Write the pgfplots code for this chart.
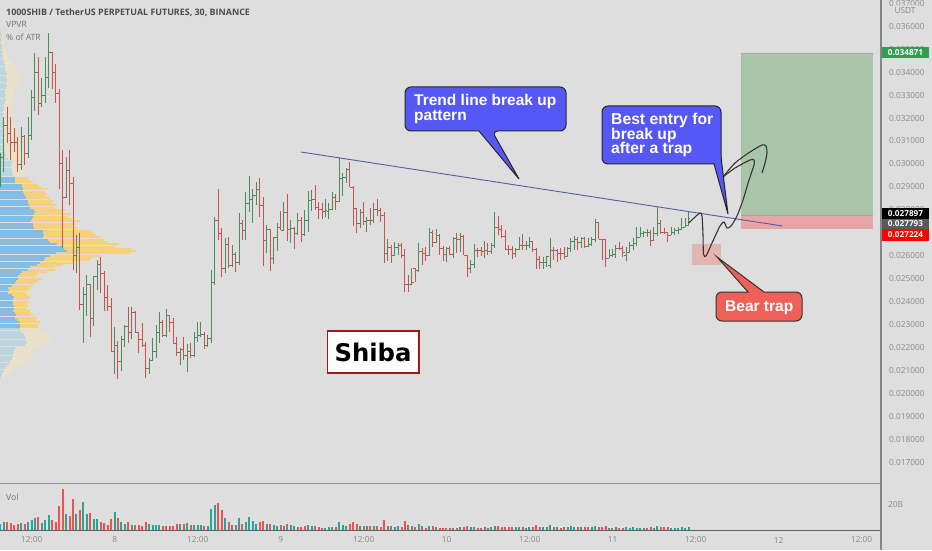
\documentclass[border=0pt]{standalone}
\usepackage{pgfplots}
\usepackage{pgfplotstable}
\usepackage{fontspec}
\setmainfont{Open Sans}
\newfontfamily\arial{Liberation Sans}
\newfontfamily\dejavu{DejaVu Sans}
\pgfplotsset{compat=1.18}
\definecolor{bgc}{HTML}{DEDEDE}
\definecolor{gbar}{HTML}{4F8A5C}
\definecolor{rbar}{HTML}{C9524F}
\definecolor{tealv}{HTML}{26A69A}
\definecolor{redv}{HTML}{EF5350}
\definecolor{vab}{HTML}{85BCE4}
\definecolor{vao}{HTML}{F4D07F}
\definecolor{pab}{HTML}{BDD5DF}
\definecolor{pao}{HTML}{ECE0C5}
\definecolor{ticktxt}{HTML}{8A8A8A}
\definecolor{calloutb}{HTML}{5658F5}
\definecolor{calloutr}{HTML}{EF6059}
\pgfdeclareplotmark{olt}{\pgfpathmoveto{\pgfqpoint{-1.9pt}{0pt}}\pgfpathlineto{\pgfqpoint{0pt}{0pt}}\pgfusepathqstroke}
\pgfdeclareplotmark{ort}{\pgfpathmoveto{\pgfqpoint{1.9pt}{0pt}}\pgfpathlineto{\pgfqpoint{0pt}{0pt}}\pgfusepathqstroke}
% price in units of 0.001 USDT
\pgfplotstableread{
k o h l c
0 29.74 30.48 28.99 30.30
1 30.30 32.05 29.65 31.70
6 30.00 31.61 29.74 31.18
8 30.44 32.04 30.26 31.26
9 31.26 33.22 31.05 32.88
10 32.88 34.84 32.31 33.97
12 32.66 33.75 32.48 33.00
13 33.00 34.66 32.66 33.75
14 33.75 35.71 33.31 34.88
19 28.56 30.30 28.52 29.74
22 26.03 26.90 25.25 26.38
24 23.90 24.64 22.20 24.33
25 24.33 25.16 23.38 24.73
27 23.29 25.12 22.94 25.08
28 25.08 25.82 24.51 25.64
33 21.85 22.90 20.85 22.11
35 21.41 22.51 20.98 22.37
36 22.37 22.98 22.03 22.94
38 22.64 23.77 22.37 23.55
43 21.11 21.55 20.85 21.46
44 21.46 22.42 21.46 21.85
45 21.85 22.98 21.55 22.64
46 22.64 23.55 22.20 23.11
48 22.51 23.68 22.46 23.38
52 21.81 21.98 21.24 21.94
54 21.64 22.16 20.93 21.85
56 21.64 22.68 21.59 22.46
57 22.46 23.11 22.24 22.51
58 22.51 23.11 22.46 22.59
60 22.11 22.55 22.03 22.42
61 22.42 25.38 22.20 24.86
62 24.86 27.69 24.73 27.56
65 25.47 26.77 25.25 26.51
67 25.56 26.47 25.51 26.08
69 25.69 27.86 25.60 27.43
71 27.12 28.78 26.69 28.30
72 28.30 29.48 27.90 28.47
73 28.47 28.91 27.43 28.65
74 28.65 29.22 28.21 28.91
77 26.69 27.34 26.12 27.16
79 25.90 26.82 25.64 26.82
80 26.82 27.43 26.20 27.25
82 27.12 28.34 27.12 27.90
84 27.16 27.56 26.55 27.21
86 26.99 27.86 26.90 27.56
88 26.95 27.99 26.86 27.56
89 27.56 28.82 27.03 28.43
90 28.43 28.87 27.95 28.47
94 27.95 28.47 27.69 27.96
95 27.95 28.30 27.60 28.03
96 28.03 28.78 27.99 28.56
98 28.38 30.26 28.34 29.39
99 29.39 29.61 28.60 29.43
100 29.43 29.83 29.17 29.78
104 27.43 28.03 27.21 27.90
106 27.51 27.69 27.03 27.56
108 27.52 28.30 27.43 28.03
112 26.12 26.73 25.77 26.38
114 26.03 26.60 26.03 26.38
115 26.38 26.55 26.03 26.47
119 24.75 25.47 24.73 24.82
121 25.34 26.55 25.29 26.20
124 26.03 27.21 25.99 27.03
126 26.60 27.16 26.55 26.90
129 26.08 26.38 25.73 26.34
131 26.08 26.82 25.90 26.77
133 26.70 26.99 26.16 26.86
136 25.43 25.82 25.25 25.64
137 25.64 26.51 25.47 26.25
140 26.20 26.64 25.90 26.25
142 26.20 26.55 26.08 26.47
143 26.47 27.90 26.34 27.25
149 26.12 26.34 25.95 26.29
150 26.29 26.82 26.25 26.47
152 26.47 26.64 26.25 26.47
153 26.47 26.82 26.34 26.64
157 25.69 25.95 25.43 25.70
158 25.70 25.99 25.51 25.95
159 25.60 26.77 25.47 26.25
164 25.99 26.38 25.95 26.34
165 26.34 26.77 26.16 26.64
166 26.64 26.86 26.25 26.73
168 26.60 26.82 26.34 26.77
170 26.42 26.77 26.38 26.51
171 26.51 26.82 26.42 26.73
172 26.73 27.60 26.60 27.47
176 25.90 26.29 25.90 26.03
177 26.03 26.29 25.95 26.08
178 26.08 26.47 25.90 26.34
181 26.00 26.38 25.77 26.16
182 26.16 26.60 26.16 26.47
183 26.47 26.77 26.25 26.55
184 26.55 27.25 26.42 26.82
185 26.82 27.25 26.82 26.99
186 26.99 27.08 26.82 27.00
187 27.00 27.16 26.82 27.02
189 26.69 27.25 26.69 26.99
190 26.99 28.12 26.86 27.43
194 26.90 27.25 26.90 27.03
195 27.03 27.21 26.90 27.12
196 27.12 27.25 26.95 27.16
197 27.16 27.64 27.12 27.25
198 27.25 27.64 27.25 27.34
199 27.34 27.90 27.34 27.64
}\upbars
\pgfplotstableread{
k o h l c
2 31.70 32.48 30.92 31.35
3 31.35 32.04 30.17 30.96
4 30.96 31.57 30.52 30.96
5 30.92 31.18 29.65 30.00
7 31.18 31.26 29.95 30.44
11 33.97 34.66 32.13 32.66
15 34.88 34.88 33.27 33.97
16 34.01 34.36 32.66 33.09
17 33.09 33.27 28.91 30.04
18 30.04 30.61 26.34 28.56
20 29.74 30.61 28.21 29.17
21 29.17 29.43 25.38 26.03
23 26.38 26.99 23.64 23.90
26 24.73 24.77 22.46 23.29
29 25.64 25.95 24.38 25.21
30 25.21 25.34 23.59 24.20
31 24.20 24.73 23.59 23.81
32 23.81 24.16 21.85 21.85
34 22.11 22.29 20.63 21.41
37 22.94 23.77 22.20 22.64
39 23.55 23.59 22.64 22.64
40 22.64 22.64 21.77 22.37
41 22.37 23.07 22.03 22.11
42 22.11 22.24 20.67 21.11
47 23.11 23.20 22.46 22.51
49 23.38 23.38 22.68 23.11
50 23.11 23.29 22.16 22.16
51 22.16 22.46 21.64 21.81
53 21.94 22.46 21.46 21.64
55 21.85 22.20 21.55 21.64
59 22.59 22.68 21.94 22.11
63 27.56 28.91 26.69 26.99
64 26.99 27.21 25.08 25.47
66 26.51 26.82 25.47 25.56
68 26.08 26.16 25.29 25.69
70 27.43 27.56 26.69 27.12
75 28.91 29.39 27.69 28.21
76 28.21 28.56 25.56 26.69
78 27.16 27.16 25.34 25.90
81 27.25 27.95 27.12 27.12
83 27.90 28.69 26.64 27.16
85 27.21 27.25 26.29 26.99
87 27.56 27.69 26.60 26.95
91 28.47 29.08 27.99 28.12
92 28.12 28.34 27.60 28.03
93 28.03 28.30 27.60 27.95
97 28.56 28.69 27.99 28.38
101 29.78 30.09 28.99 28.99
102 28.99 29.04 27.29 28.08
103 28.08 28.08 26.99 27.43
105 27.90 28.34 27.34 27.51
107 27.56 28.08 27.34 27.52
109 28.03 28.47 27.73 27.99
110 27.99 28.08 27.47 27.77
111 27.77 27.90 25.69 26.12
113 26.38 26.47 25.69 26.03
116 26.47 26.55 25.90 26.03
117 26.03 26.29 24.42 24.77
118 24.77 25.16 24.42 24.75
120 25.47 25.47 24.86 25.34
122 26.20 26.34 25.60 26.12
123 26.12 26.38 25.77 26.03
125 27.03 27.12 26.38 26.60
127 26.90 26.95 26.03 26.34
128 26.34 26.42 25.77 26.08
130 26.34 26.42 26.03 26.08
132 26.77 26.99 26.12 26.70
134 26.86 26.90 26.03 26.03
135 26.03 26.03 25.08 25.43
138 26.25 26.34 25.95 26.25
139 26.25 26.38 25.99 26.20
141 26.25 26.55 26.03 26.20
144 27.25 27.73 26.90 27.16
145 27.16 27.34 26.77 26.86
146 26.86 27.12 26.25 26.29
147 26.29 26.47 26.03 26.29
148 26.29 26.42 25.86 26.12
151 26.47 26.95 26.25 26.47
154 26.64 26.64 26.16 26.29
155 26.29 26.34 25.43 25.82
156 25.82 25.99 25.43 25.69
160 26.25 26.38 25.82 26.25
161 26.25 26.29 25.73 26.12
162 26.12 26.34 25.82 26.12
163 26.12 26.38 25.86 25.99
167 26.73 26.82 26.25 26.60
169 26.77 26.82 26.34 26.42
173 27.47 27.47 26.73 26.73
174 26.73 26.73 25.82 26.70
175 26.70 26.73 25.51 25.90
179 26.34 26.60 26.25 26.30
180 26.30 26.42 25.95 26.16
188 27.02 27.12 26.42 26.69
191 27.43 27.56 26.95 27.03
192 27.03 27.21 26.95 27.03
193 27.03 27.03 26.60 26.90
}\downbars
% volume profile: price row, up-volume extent, total extent
\pgfplotstableread{
p b t
35.7 1 3
35.6 2 3
35.5 1 3
35.4 2 4
35.3 1 3
35.2 2 4
35.1 2 4
35.0 2 5
34.9 3 6
34.8 2 6
34.7 3 7
34.6 3 8
34.5 4 10
34.4 4 12
34.3 5 14
34.2 5 17
34.1 5 16
34.0 6 18
33.9 7 20
33.8 6 21
33.7 7 19
33.6 7 20
33.5 6 17
33.4 7 18
33.3 6 15
33.2 5 14
33.1 5 13
33.0 6 14
32.9 5 15
32.8 6 14
32.7 5 13
32.6 4 12
32.5 4 11
32.4 4 10
32.3 3 11
32.2 4 10
32.1 3 9
32.0 3 10
31.9 3 11
31.8 4 11
31.7 3 13
31.6 3 14
31.5 4 16
31.4 4 18
31.3 4 17
31.2 5 19
31.1 4 20
31.0 4 19
30.9 4 20
30.8 5 21
30.7 4 20
30.6 5 22
30.5 5 23
30.4 6 21
30.3 5 22
30.2 8 21
30.1 12 20
30.0 12 21
29.9 11 22
29.8 12 23
29.7 12 24
29.6 12 23
29.5 13 25
22.8 20 42
22.7 21 40
22.6 24 48
22.5 25 52
22.4 26 50
22.3 26 53
22.2 27 47
22.1 25 43
22.0 16 37
21.9 14 32
21.8 14 30
21.7 13 32
21.6 13 38
21.5 12 33
21.4 10 27
21.3 9 25
21.2 7 20
21.1 5 15
21.0 4 13
20.9 3 10
20.8 2 6
20.7 1 3
}\profpale
\pgfplotstableread{
p b t
29.4 15 28
29.3 15 31
29.2 15 33
29.1 22 38
29.0 22 41
28.9 23 48
28.8 23 45
28.7 24 47
28.6 25 46
28.5 26 50
28.4 28 53
28.3 28 52
28.2 29 57
28.1 30 55
28.0 34 65
27.9 35 62
27.8 34 70
27.7 33 68
27.6 32 72
27.5 31 80
27.4 33 76
27.3 33 72
27.2 34 78
27.1 43 92
27.0 43 93
26.9 44 96
26.8 43 100
26.7 48 104
26.6 50 107
26.5 57 119
26.4 62 115
26.3 64 132
26.2 67 136
26.1 56 130
26.0 50 102
25.9 45 92
25.8 44 90
25.7 40 74
25.6 37 63
25.5 30 55
25.4 28 56
25.3 22 46
25.2 20 38
25.1 18 35
25.0 18 42
24.9 16 38
24.8 15 35
24.7 12 33
24.6 8 30
24.5 9 28
24.4 8 25
24.3 12 27
24.2 14 30
24.1 13 28
24.0 13 29
23.9 13 27
23.8 14 28
23.7 14 27
23.6 13 30
23.5 15 31
23.4 16 33
23.3 15 37
23.2 17 36
23.1 20 40
23.0 20 38
22.9 20 38
}\profva
\begin{document}
\begin{tikzpicture}
\path[use as bounding box,fill=bgc] (0pt,0pt) rectangle (932pt,550pt);
% volume profile
\begin{axis}[at={(0pt,66pt)},anchor=south west,scale only axis,width=881pt,height=484pt,
  xmin=0,xmax=881,ymin=16.056,ymax=37.146,hide axis,clip=true]
  \addplot[xcomb,color=pao,line width=2pt] table[x=t,y=p]{\profpale};
  \addplot[xcomb,color=pab,line width=2pt] table[x=b,y=p]{\profpale};
  \addplot[xcomb,color=vao,line width=2pt] table[x=t,y=p]{\profva};
  \addplot[xcomb,color=vab,line width=2pt] table[x=b,y=p]{\profva};
\end{axis}
% price pane
\begin{axis}[at={(0pt,66pt)},anchor=south west,scale only axis,width=881pt,height=484pt,
  xmin=-0.116,xmax=254.65,ymin=16.056,ymax=37.146,
  axis line style={draw=none},tick style={draw=none},xtick=\empty,
  ytick={17,18,19,20,21,22,23,24,25,26,27,28,29,30,31,32,33,34,35,36,37},
  yticklabels={0.017000,0.018000,0.019000,0.020000,0.021000,0.022000,0.023000,0.024000,0.025000,0.026000,0.027000,0.028000,0.029000,0.030000,0.031000,0.032000,0.033000,0.034000,0.035000,0.036000,0.037000},
  yticklabel pos=right,
  y tick label style={anchor=west,inner sep=0pt,xshift=8pt,font=\fontsize{8.3}{10}\selectfont,text=ticktxt},
  ]
  \addplot[draw=none,mark=none,forget plot,error bars/.cd,y dir=plus,y explicit,error mark=none,error bar style={draw=gbar,line width=1pt}] table[x=k,y=l,y error expr=\thisrow{h}-\thisrow{l}]{\upbars};
  \addplot[only marks,mark=olt,color=gbar,line width=0.9pt] table[x=k,y=o]{\upbars};
  \addplot[only marks,mark=ort,color=gbar,line width=0.9pt] table[x=k,y=c]{\upbars};
  \addplot[draw=none,mark=none,forget plot,error bars/.cd,y dir=plus,y explicit,error mark=none,error bar style={draw=rbar,line width=1pt}] table[x=k,y=l,y error expr=\thisrow{h}-\thisrow{l}]{\downbars};
  \addplot[only marks,mark=olt,color=rbar,line width=0.9pt] table[x=k,y=o]{\downbars};
  \addplot[only marks,mark=ort,color=rbar,line width=0.9pt] table[x=k,y=c]{\downbars};
\end{axis}
% volume pane
\begin{axis}[at={(0pt,19.7pt)},anchor=south west,scale only axis,width=881pt,height=46.3pt,
  xmin=-0.116,xmax=254.65,ymin=0,ymax=35.6,
  axis line style={draw=none},tick style={draw=none},
  xtick={9.05,33.05,57.05,81.05,105.05,129.05,153.05,177.05,201.05,225.05,249.05},
  xticklabels={12:00,8,12:00,9,12:00,10,12:00,11,12:00,12,12:00},
  x tick label style={inner sep=0pt,anchor=center,yshift=-9.7pt,font=\fontsize{8.3}{10}\selectfont,text=ticktxt},
  ytick={20},yticklabels={20B},yticklabel pos=right,
  y tick label style={anchor=west,inner sep=0pt,xshift=7pt,font=\fontsize{8.3}{10}\selectfont,text=ticktxt},
  ]
  \addplot[ycomb,color=tealv,line width=2pt] coordinates {(0,4.6)(1,6.4)(6,5.6)(8,6.7)(9,7.7)(10,9.8)(12,5.6)(13,7.7)(14,11.8)(19,12.6)(22,12.6)(24,21.8)(25,12.6)(27,8.5)(28,8.5)(33,13.9)(35,6.7)(36,5.1)(38,4.1)(43,4.6)(44,4.1)(45,4.4)(46,4.1)(52,4.6)(54,5.6)(56,4.1)(57,4.1)(58,4.1)(60,3.1)(61,16.7)(62,19.8)(65,9.2)(67,4.1)(69,9.8)(71,6.7)(72,10.3)(73,7.2)(74,4.6)(77,4.6)(79,4.1)(80,3.6)(82,3.1)(84,4.1)(85,3.6)(89,4.1)(90,3.1)(94,2.1)(95,2.3)(96,2.6)(98,6.7)(99,4.1)(100,3.6)(104,3.6)(106,3.1)(108,3.1)(112,3.6)(114,2.6)(115,3.1)(119,3.1)(121,5.1)(124,3.6)(126,2.6)(131,2.1)(133,2.3)(136,2.6)(137,2.6)(140,2.3)(142,2.3)(143,3.6)(149,2.3)(150,2.3)(152,1.8)(153,2.3)(157,2.6)(158,2.3)(159,4.1)(161,2.3)(164,2.6)(165,3.1)(166,2.6)(168,2.3)(171,2.3)(172,3.6)(176,1.5)(178,2.3)(181,2.3)(182,2.1)(183,2.6)(184,2.1)(185,1.8)(186,2.1)(189,2.1)(190,3.6)(194,1.8)(195,1.8)(196,2.1)(197,2.6)(198,1.8)(199,2.3)};
  \addplot[ycomb,color=redv,line width=2pt] coordinates {(2,6.7)(3,5.6)(4,4.1)(5,5.1)(7,4.6)(11,10.3)(15,8.0)(16,6.7)(17,19.0)(18,31.8)(20,10.8)(21,23.9)(23,15.7)(26,13.1)(29,6.7)(30,5.6)(31,4.1)(32,8.7)(34,9.5)(37,6.7)(39,4.1)(40,4.1)(41,3.6)(42,6.2)(47,3.6)(48,3.6)(49,3.1)(50,3.6)(51,4.6)(53,4.6)(55,4.1)(59,3.6)(63,21.0)(64,15.7)(66,6.2)(68,4.1)(70,5.1)(75,6.2)(76,7.2)(78,5.1)(81,4.1)(83,4.6)(86,2.8)(87,2.6)(88,3.1)(91,3.6)(92,2.6)(93,2.1)(97,2.6)(101,4.6)(102,6.7)(103,5.1)(105,3.6)(107,3.1)(109,3.6)(110,2.6)(111,7.7)(113,3.6)(116,2.8)(117,7.4)(118,4.1)(120,2.6)(122,3.1)(123,2.1)(125,3.1)(127,2.1)(128,2.1)(129,2.1)(130,1.5)(132,2.1)(134,2.6)(135,3.6)(138,1.5)(139,1.8)(141,1.8)(144,3.1)(145,2.6)(146,2.6)(147,2.6)(148,2.3)(151,2.6)(154,2.3)(155,4.1)(156,2.6)(160,2.8)(162,1.8)(163,2.6)(167,2.3)(169,2.3)(170,2.3)(173,2.6)(174,2.6)(175,3.1)(177,1.8)(179,1.8)(180,1.8)(187,2.1)(188,2.3)(191,2.6)(192,2.3)(193,2.3)};
\end{axis}
% annotations, in picture pixels measured from the top left
\begin{scope}[yshift=550pt,y=-1pt,x=1pt]
  % pane separators
  \draw[color=black!42,line width=1.3pt] (0,483.8)--(881,483.8);
  \draw[color=black!62,line width=0.9pt] (0,530.3)--(881,530.3);
  \draw[color=black!48,line width=1.6pt] (881,0)--(881,550);
  % long position
  \fill[fill={rgb,255:red,169;green,197;blue,169}] (741,53) rectangle (873,215.5);
  \fill[fill={rgb,255:red,232;green,165;blue,165}] (741,215.5) rectangle (873,229);
  \draw[color=black!35,line width=0.5pt] (741,53)--(873,53);
  \draw[color=black!35,line width=0.5pt] (741,215.5)--(873,215.5);
  % trap box
  \filldraw[fill={rgb,255:red,232;green,180;blue,176},draw={rgb,255:red,205;green,190;blue,175},line width=0.8pt] (692.7,244) rectangle (720.7,264);
  % trend line
  \draw[color={rgb,255:red,88;green,92;blue,160},line width=0.9pt] (301,152)--(782.5,226);
  % hand-drawn path
  \draw[color=black!80,line width=1.1pt] plot[smooth,tension=0.45] coordinates {(688.7,223)(694,218)(700,213)(702,216)(703,235)(703.5,254)(706,256)(712,243)(720,226)(724,222)(727,228)(731,226)(737,216)(743,200)(749,180)(754,165)(754,160)(750,160)(735,168)(723,177)};
  \draw[color=black!80,line width=1.1pt] plot[smooth,tension=0.45] coordinates {(723,177)(735,163)(750,152)(762,145)(766,146)(767,153)(765,163)(762,173)};
  % callouts
  \filldraw[fill=calloutb,draw=black!85,line width=1pt,rounded corners=6pt] (405,87)--(566,87)--(566,131)--(492,131)[sharp corners]--(519,179)--(479,131)[rounded corners=6pt]--(405,131)--cycle;
  \node[anchor=base west,inner sep=0,text=white,font=\arial\bfseries\fontsize{15.5}{16}\selectfont] at (414,106) {Trend line break up};
  \node[anchor=base west,inner sep=0,text=white,font=\arial\bfseries\fontsize{15.5}{16}\selectfont] at (414,120.5) {pattern};
  \filldraw[fill=calloutb,draw=black!85,line width=1pt,rounded corners=6pt] (602,106)--(721,106)--(721,157)[sharp corners]--(728,214)--(714,164)[rounded corners=6pt]--(602,164)--cycle;
  \node[anchor=base west,inner sep=0,text=white,font=\arial\bfseries\fontsize{15.7}{16}\selectfont] at (611,125) {Best entry for};
  \node[anchor=base west,inner sep=0,text=white,font=\arial\bfseries\fontsize{15.7}{16}\selectfont] at (611,139.5) {break up};
  \node[anchor=base west,inner sep=0,text=white,font=\arial\bfseries\fontsize{15.7}{16}\selectfont] at (611,154) {after a trap};
  \filldraw[fill=calloutr,draw=black!80,line width=1pt,rounded corners=6pt] (716,292)[sharp corners]--(748,292)--(717,257)--(764,292)[rounded corners=6pt]--(802,292)--(802,321)--(716,321)--cycle;
  \node[anchor=base west,inner sep=0,text=white,font=\arial\bfseries\fontsize{15.5}{16}\selectfont] at (725,311) {Bear trap};
  % name tag
  \filldraw[fill=white,draw={rgb,255:red,160;green,25;blue,25},line width=1.8pt] (327.5,331) rectangle (419,373);
  \node[anchor=base,inner sep=0,text=black,font=\dejavu\bfseries\fontsize{24.3}{26}\selectfont] at (373,361) {Shiba};
  % legend text
  \node[anchor=base west,inner sep=0,text=black!70,font=\bfseries\fontsize{8.9}{10}\selectfont] at (6,15.5) {1000SHIB / TetherUS PERPETUAL FUTURES, 30, BINANCE};
  \node[anchor=base west,inner sep=0,text=black!55,font=\fontsize{8.6}{10}\selectfont] at (6,28) {VPVR};
  \node[anchor=base west,inner sep=0,text=black!55,font=\fontsize{8.6}{10}\selectfont] at (6,40.5) {\% of ATR};
  \node[anchor=base west,inner sep=0,text=black!55,font=\fontsize{8.6}{10}\selectfont] at (6,500) {Vol};
  % price scale labels
  \fill[fill=bgc,rounded corners=2pt] (892,5.5) rectangle (921,17);
  \node[anchor=center,inner sep=0,text=ticktxt,font=\fontsize{8.3}{10}\selectfont] at (905,11) {USDT};
  \fill[fill={rgb,255:red,46;green,158;blue,79}] (882,47) rectangle (929,58);
  \node[anchor=center,inner sep=0,text=white,font=\bfseries\fontsize{8.2}{10}\selectfont] at (905.5,52.5) {0.034871};
  \fill[fill=black] (882,208) rectangle (929,218.5);
  \node[anchor=center,inner sep=0,text=white,font=\bfseries\fontsize{8.2}{10}\selectfont] at (905.5,213.2) {0.027897};
  \fill[fill=black!65] (882,218.5) rectangle (929,229);
  \node[anchor=center,inner sep=0,text=white,font=\bfseries\fontsize{8.2}{10}\selectfont] at (905.5,223.8) {0.027793};
  \fill[fill=red] (882,229) rectangle (929,240.5);
  \node[anchor=center,inner sep=0,text=white,font=\bfseries\fontsize{8.2}{10}\selectfont] at (905.5,234.8) {0.027224};
\end{scope}
\end{tikzpicture}
\end{document}
